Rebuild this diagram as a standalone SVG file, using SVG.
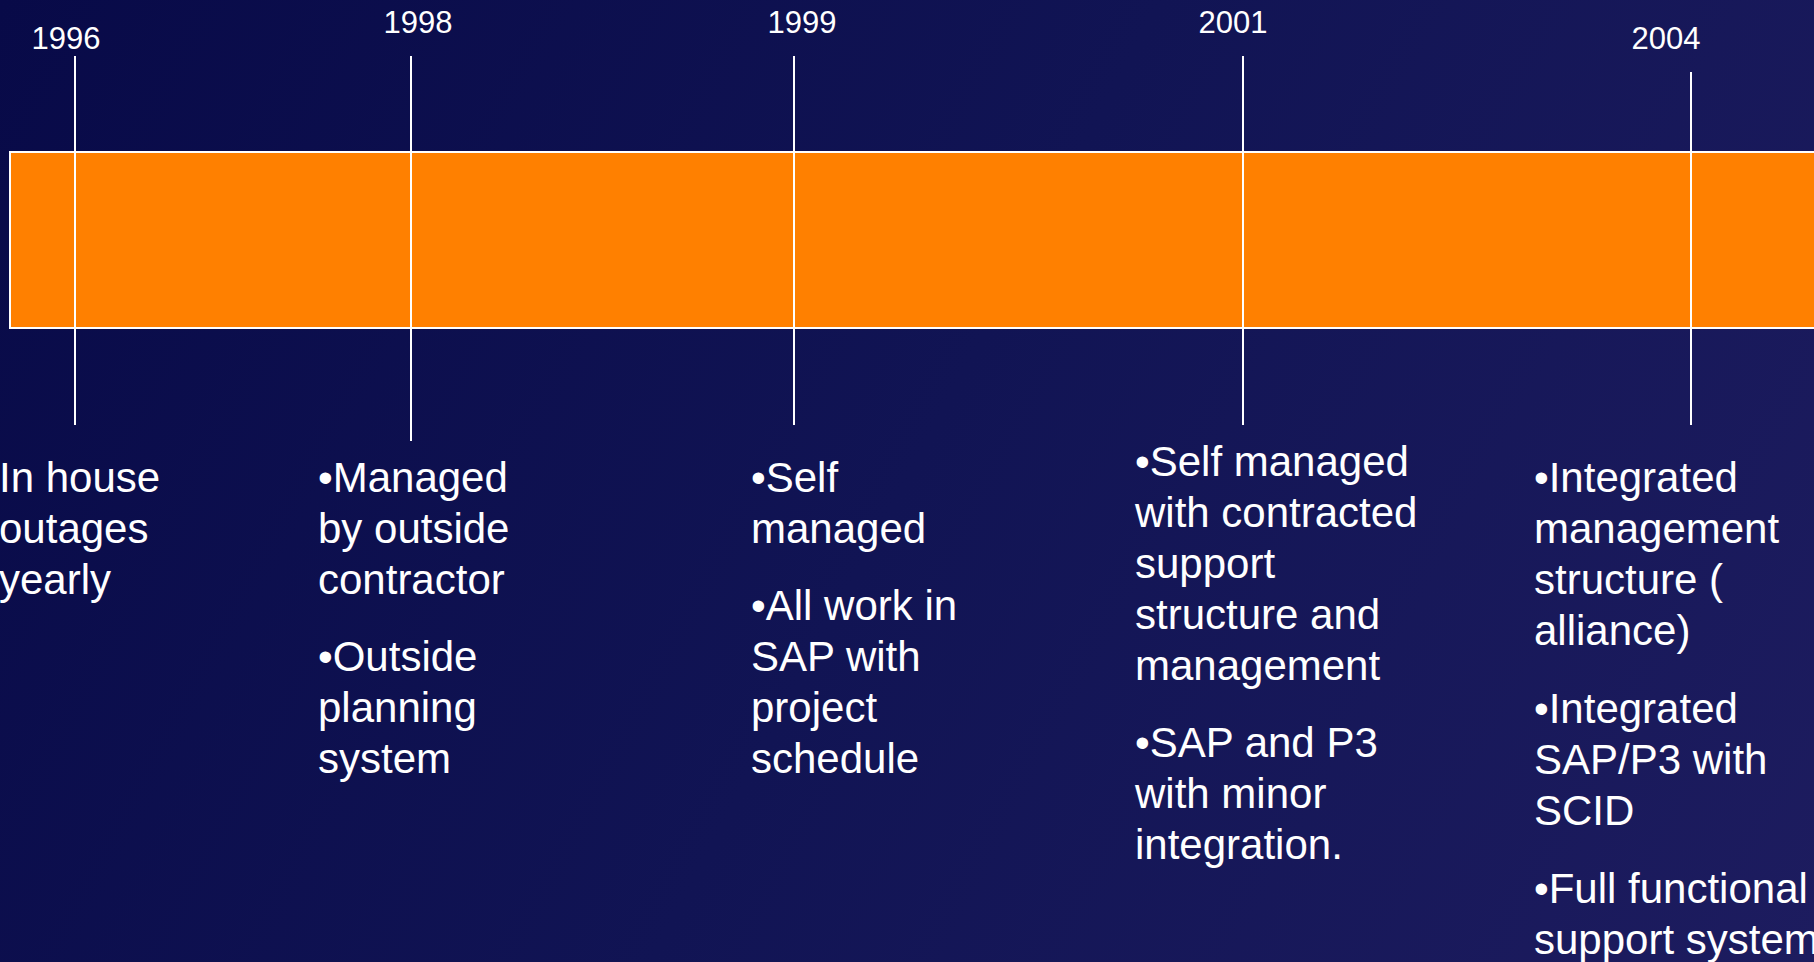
<svg xmlns="http://www.w3.org/2000/svg" width="1814" height="962" viewBox="0 0 1814 962">
  <defs>
    <linearGradient id="bg" x1="0" y1="0" x2="1814" y2="962" gradientUnits="userSpaceOnUse">
      <stop offset="0" stop-color="#080a48"/>
      <stop offset="0.5" stop-color="#111454"/>
      <stop offset="1" stop-color="#1d1c5f"/>
    </linearGradient>
    <style>
      .year { font-family: "Liberation Sans", Arial, sans-serif; font-size: 31px; fill: #ffffff; text-anchor: middle; }
      .desc { font-family: "Liberation Sans", Arial, sans-serif; font-size: 42px; fill: #ffffff; }
      .tick { stroke: #ffffff; stroke-width: 2; fill: none; }
      .bar { fill: #ff8000; stroke: #ffffff; stroke-width: 2; }
    </style>
  </defs>

  <rect x="0" y="0" width="1814" height="962" fill="url(#bg)"/>

  <!-- timeline band -->
  <g id="timeline-bar">
    <rect class="bar" x="10" y="152" width="1820" height="176"/>
  </g>

  <!-- year ticks crossing the band -->
  <g id="connectors">
    <line class="tick" x1="75" y1="56" x2="75" y2="425"/>
    <line class="tick" x1="411" y1="56" x2="411" y2="441"/>
    <line class="tick" x1="794" y1="56" x2="794" y2="425"/>
    <line class="tick" x1="1243" y1="56" x2="1243" y2="425"/>
    <line class="tick" x1="1691" y1="72" x2="1691" y2="425"/>
  </g>

  <g id="year-1996">
    <text class="year" x="66" y="49">1996</text>
    <text class="desc" x="-1">
      <tspan x="-1" y="492">In house</tspan>
      <tspan x="-1" y="543">outages</tspan>
      <tspan x="-1" y="594">yearly</tspan>
    </text>
  </g>

  <g id="year-1998">
    <text class="year" x="418" y="33">1998</text>
    <text class="desc">
      <tspan x="318" y="492">•Managed</tspan>
      <tspan x="318" y="543">by outside</tspan>
      <tspan x="318" y="594">contractor</tspan>
      <tspan x="318" y="671">•Outside</tspan>
      <tspan x="318" y="722">planning</tspan>
      <tspan x="318" y="773">system</tspan>
    </text>
  </g>

  <g id="year-1999">
    <text class="year" x="802" y="33">1999</text>
    <text class="desc">
      <tspan x="751" y="492">•Self</tspan>
      <tspan x="751" y="543">managed</tspan>
      <tspan x="751" y="620">•All work in</tspan>
      <tspan x="751" y="671">SAP with</tspan>
      <tspan x="751" y="722">project</tspan>
      <tspan x="751" y="773">schedule</tspan>
    </text>
  </g>

  <g id="year-2001">
    <text class="year" x="1233" y="33">2001</text>
    <text class="desc">
      <tspan x="1135" y="476">•Self managed</tspan>
      <tspan x="1135" y="527">with contracted</tspan>
      <tspan x="1135" y="578">support</tspan>
      <tspan x="1135" y="629">structure and</tspan>
      <tspan x="1135" y="680">management</tspan>
      <tspan x="1135" y="757">•SAP and P3</tspan>
      <tspan x="1135" y="808">with minor</tspan>
      <tspan x="1135" y="859">integration.</tspan>
    </text>
  </g>

  <g id="year-2004">
    <text class="year" x="1666" y="49">2004</text>
    <text class="desc">
      <tspan x="1534" y="492">•Integrated</tspan>
      <tspan x="1534" y="543">management</tspan>
      <tspan x="1534" y="594">structure (</tspan>
      <tspan x="1534" y="645">alliance)</tspan>
      <tspan x="1534" y="723">•Integrated</tspan>
      <tspan x="1534" y="774">SAP/P3 with</tspan>
      <tspan x="1534" y="825">SCID</tspan>
      <tspan x="1534" y="903">•Full functional</tspan>
      <tspan x="1534" y="954">support system</tspan>
    </text>
  </g>
</svg>
